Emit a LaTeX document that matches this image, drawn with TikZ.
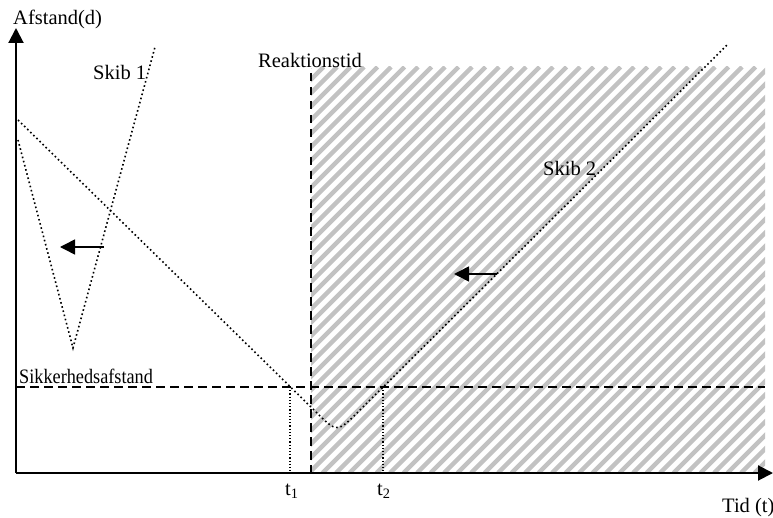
\documentclass[tikz,border=0pt]{standalone}
\usepackage{fontspec}
\setmainfont{Liberation Serif}
\usetikzlibrary{arrows.meta}
\begin{document}
\begin{tikzpicture}[x=1bp,y=-1bp,
  lbl/.style={font=\fontsize{20.5bp}{24bp}\selectfont, inner sep=0pt, anchor=base west},
  axisline/.style={line width=2bp, -{Triangle[length=15bp,width=15bp]}},
  dashline/.style={line width=2bp, dash pattern=on 8.5bp off 5.5bp},
  dotcurve/.style={line width=1.6bp, dash pattern=on 1.6bp off 2.7bp},
  dotthin/.style={line width=1.2bp, dash pattern=on 1.2bp off 2bp},
  motion/.style={line width=1.5bp, -{Triangle[length=15bp,width=15bp]}},
  hatchline/.style={line width=4.5bp, gray!48}]
\useasboundingbox (0,0) rectangle (773,518);
% hatched region
\begin{scope}
  \clip (311,67) rectangle (765,473);
  \foreach \k in {-420,-406.5,...,780} \draw[hatchline] (\k,473) -- ++(406,-406);
\end{scope}
% coordinates
\coordinate (O) at (16,473);
\coordinate (Ytop) at (16,28);
\coordinate (Xend) at (773,473);
\coordinate (Sl) at (16,387);
\coordinate (Sr) at (765,387);
\coordinate (Rt) at (311,73);
\coordinate (Rb) at (311,473);
\coordinate (T1t) at (290,387);
\coordinate (T1b) at (290,473);
\coordinate (T2t) at (383,387);
\coordinate (T2b) at (383,473);
% Skib 1 curve
\coordinate (A1) at (18,140);
\coordinate (A2) at (73,348);
\coordinate (A3) at (155,47);
% Skib 2 curve
\coordinate (B1) at (18,120);
\coordinate (B2) at (315,411);
\coordinate (Bc) at (337,433);
\coordinate (B3) at (359,411);
\coordinate (B4) at (727,45);
% motion arrows
\coordinate (M1s) at (104,247);
\coordinate (M1e) at (60,247);
\coordinate (M2s) at (497,274);
\coordinate (M2e) at (454,274);

% lines
\draw[dashline] (Sl) -- (Sr);
\draw[dashline] (Rt) -- (Rb);
\draw[dotthin] (T1t) -- (T1b);
\draw[dotthin] (T2t) -- (T2b);
\draw[dotcurve] (A1) -- (A2) -- (A3);
\draw[dotcurve] (B1) -- (B2) .. controls (Bc) .. (B3) -- (B4);
\draw[motion] (M1s) -- (M1e);
\draw[motion] (M2s) -- (M2e);
\draw[axisline] (O) -- (Ytop);
\draw[axisline] (O) -- (Xend);

% labels
\node[lbl] (afst) at (13,25) {Afstand(d)};
\node[lbl] (skib1) at (93,80) {Skib 1};
\node[lbl] (reak) at (258,68) {Reaktionstid};
\node[lbl] (skib2) at (543,176) {Skib 2};
\node[lbl] (sikk) at (19,383) {\scalebox{0.89}[1]{Sikkerhedsafstand}};
\node[lbl] (t1) at (285,495) {t\textsubscript{1}};
\node[lbl] (t2) at (377,495) {t\textsubscript{2}};
\node[lbl] (tid) at (722,512) {Tid (t)};
\end{tikzpicture}
\end{document}
